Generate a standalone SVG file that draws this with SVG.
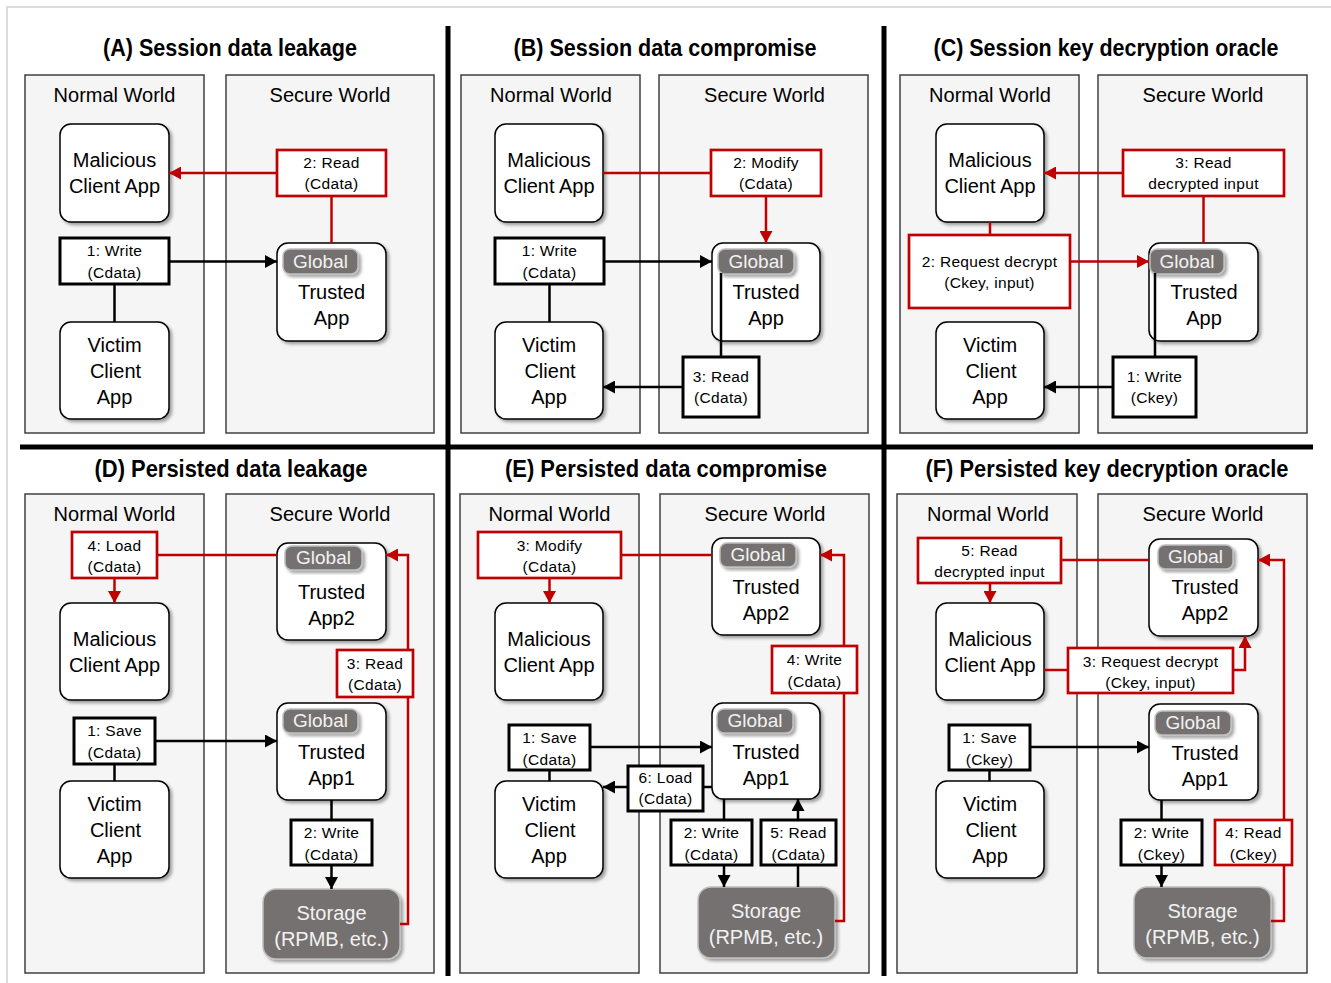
<svg xmlns="http://www.w3.org/2000/svg" width="1331" height="983" viewBox="0 0 1331 983">
<defs>
<filter id="sh" x="-20%" y="-20%" width="140%" height="140%">
<feDropShadow dx="2.5" dy="2.5" stdDeviation="1.5" flood-color="#000" flood-opacity="0.35"/>
</filter>
<marker id="ab" markerUnits="userSpaceOnUse" markerWidth="13" markerHeight="13" refX="12" refY="6.5" orient="auto">
<path d="M0,0 L12,6.5 L0,13 z" fill="#000"/>
</marker>
<marker id="ar" markerUnits="userSpaceOnUse" markerWidth="13" markerHeight="13" refX="12" refY="6.5" orient="auto">
<path d="M0,0 L12,6.5 L0,13 z" fill="#c00000"/>
</marker>
<style>
.world{fill:#f5f5f5;stroke:#404040;stroke-width:1.5}
.node{fill:#fff;stroke:#000;stroke-width:1.5;filter:url(#sh)}
.badge{fill:#767171;stroke:#bfbfbf;stroke-width:1.5;filter:url(#sh)}
.stor{fill:#767171;stroke:#bfbfbf;stroke-width:1.5;filter:url(#sh)}
.lb{fill:#fff;stroke:#000;stroke-width:3}
.lr{fill:#fff;stroke:#c00000;stroke-width:2.7}
.c{fill:none;stroke:#000;stroke-width:2.5}
.cr{fill:none;stroke:#c00000;stroke-width:2.5}
.ab{marker-end:url(#ab)}
.ar{marker-end:url(#ar)}
text{font-family:"Liberation Sans",Arial,sans-serif;text-anchor:middle;fill:#000}
.h{font-size:24px;font-weight:bold}
.t{font-size:20px}
.g{font-size:19px;fill:#f2f2f2}
.w{font-size:20px;fill:#f2f2f2}
.s{font-size:15.5px;letter-spacing:0.3px}
.div{stroke:#000;stroke-width:5}
</style>
</defs>

<rect x="7" y="7" width="1400" height="1000" fill="#fff" stroke="#dcdcdc" stroke-width="2"/>

<g id="dividers">
<line class="div" x1="448" y1="26" x2="448" y2="976"/>
<line class="div" x1="884" y1="26" x2="884" y2="976"/>
<line class="div" x1="20" y1="447" x2="1313" y2="447"/>
</g>

<g id="titles">
<text class="h" x="230" y="56" textLength="254" lengthAdjust="spacingAndGlyphs">(A) Session data leakage</text>
<text class="h" x="665" y="56" textLength="303" lengthAdjust="spacingAndGlyphs">(B) Session data compromise</text>
<text class="h" x="1106" y="56" textLength="345" lengthAdjust="spacingAndGlyphs">(C) Session key decryption oracle</text>
<text class="h" x="231" y="477" textLength="273" lengthAdjust="spacingAndGlyphs">(D) Persisted data leakage</text>
<text class="h" x="666" y="477" textLength="322" lengthAdjust="spacingAndGlyphs">(E) Persisted data compromise</text>
<text class="h" x="1107" y="477" textLength="363" lengthAdjust="spacingAndGlyphs">(F) Persisted key decryption oracle</text>
</g>

<g id="worlds">
<g id="A-normal"><rect class="world" x="25" y="75" width="179" height="358"/><text class="t" x="114.5" y="102">Normal World</text></g>
<g id="A-secure"><rect class="world" x="226" y="75" width="208" height="358"/><text class="t" x="330" y="102">Secure World</text></g>
<g id="B-normal"><rect class="world" x="461" y="75" width="179" height="358"/><text class="t" x="551" y="102">Normal World</text></g>
<g id="B-secure"><rect class="world" x="659" y="75" width="209" height="358"/><text class="t" x="764.5" y="102">Secure World</text></g>
<g id="C-normal"><rect class="world" x="900" y="75" width="179" height="358"/><text class="t" x="990" y="102">Normal World</text></g>
<g id="C-secure"><rect class="world" x="1098" y="75" width="209" height="358"/><text class="t" x="1203" y="102">Secure World</text></g>
<g id="D-normal"><rect class="world" x="25" y="494" width="179" height="479"/><text class="t" x="114.5" y="521">Normal World</text></g>
<g id="D-secure"><rect class="world" x="226" y="494" width="208" height="479"/><text class="t" x="330" y="521">Secure World</text></g>
<g id="E-normal"><rect class="world" x="460" y="494" width="179" height="479"/><text class="t" x="549.5" y="521">Normal World</text></g>
<g id="E-secure"><rect class="world" x="660" y="494" width="209" height="479"/><text class="t" x="765" y="521">Secure World</text></g>
<g id="F-normal"><rect class="world" x="897" y="494" width="180" height="479"/><text class="t" x="988" y="521">Normal World</text></g>
<g id="F-secure"><rect class="world" x="1098" y="494" width="209" height="479"/><text class="t" x="1203" y="521">Secure World</text></g>
</g>

<g id="apps">
<!-- A -->
<g id="A-mal"><rect class="node" x="60" y="124" width="109" height="98" rx="11"/><text class="t" x="114.5" y="167">Malicious</text><text class="t" x="114.5" y="193">Client App</text></g>
<g id="A-vic"><rect class="node" x="60" y="322" width="109" height="97" rx="11"/><text class="t" x="114.5" y="352">Victim</text><text class="t" x="115.5" y="378">Client</text><text class="t" x="114.5" y="404">App</text></g>
<g id="A-ta"><rect class="node" x="277" y="243" width="109" height="98" rx="11"/><rect class="badge" x="283" y="249" width="75" height="25" rx="7"/><text class="g" x="320.5" y="268">Global</text><text class="t" x="331.5" y="299">Trusted</text><text class="t" x="331.5" y="325">App</text></g>
<!-- B -->
<g id="B-mal"><rect class="node" x="495" y="124" width="108" height="98" rx="11"/><text class="t" x="549" y="167">Malicious</text><text class="t" x="549" y="193">Client App</text></g>
<g id="B-vic"><rect class="node" x="495" y="322" width="108" height="97" rx="11"/><text class="t" x="549" y="352">Victim</text><text class="t" x="550" y="378">Client</text><text class="t" x="549" y="404">App</text></g>
<g id="B-ta"><rect class="node" x="712" y="243" width="108" height="98" rx="11"/><rect class="badge" x="718" y="249" width="76" height="25" rx="7"/><text class="g" x="756" y="268">Global</text><text class="t" x="766" y="299">Trusted</text><text class="t" x="766" y="325">App</text></g>
<!-- C -->
<g id="C-mal"><rect class="node" x="936" y="124" width="108" height="98" rx="11"/><text class="t" x="990" y="167">Malicious</text><text class="t" x="990" y="193">Client App</text></g>
<g id="C-vic"><rect class="node" x="936" y="322" width="108" height="97" rx="11"/><text class="t" x="990" y="352">Victim</text><text class="t" x="991" y="378">Client</text><text class="t" x="990" y="404">App</text></g>
<g id="C-ta"><rect class="node" x="1149" y="243" width="109" height="98" rx="11"/><rect class="badge" x="1150" y="249" width="74" height="25" rx="7"/><text class="g" x="1187" y="268">Global</text><text class="t" x="1204" y="299">Trusted</text><text class="t" x="1204" y="325">App</text></g>
<!-- D -->
<g id="D-mal"><rect class="node" x="60" y="603" width="109" height="97" rx="11"/><text class="t" x="114.5" y="646">Malicious</text><text class="t" x="114.5" y="672">Client App</text></g>
<g id="D-vic"><rect class="node" x="60" y="781" width="109" height="97" rx="11"/><text class="t" x="114.5" y="811">Victim</text><text class="t" x="115.5" y="837">Client</text><text class="t" x="114.5" y="863">App</text></g>
<g id="D-ta2"><rect class="node" x="277" y="543" width="109" height="97" rx="11"/><rect class="badge" x="285" y="546" width="77" height="24" rx="7"/><text class="g" x="323.5" y="564">Global</text><text class="t" x="331.5" y="599">Trusted</text><text class="t" x="331.5" y="625">App2</text></g>
<g id="D-ta1"><rect class="node" x="277" y="703" width="109" height="97" rx="11"/><rect class="badge" x="283" y="709" width="75" height="24" rx="7"/><text class="g" x="320.5" y="727">Global</text><text class="t" x="331.5" y="759">Trusted</text><text class="t" x="331.5" y="785">App1</text></g>
<g id="D-sto"><rect class="stor" x="263" y="889" width="137" height="70" rx="13"/><text class="w" x="331.5" y="920">Storage</text><text class="w" x="331.5" y="946">(RPMB, etc.)</text></g>
<!-- E -->
<g id="E-mal"><rect class="node" x="495" y="603" width="108" height="97" rx="11"/><text class="t" x="549" y="646">Malicious</text><text class="t" x="549" y="672">Client App</text></g>
<g id="E-vic"><rect class="node" x="495" y="781" width="108" height="97" rx="11"/><text class="t" x="549" y="811">Victim</text><text class="t" x="550" y="837">Client</text><text class="t" x="549" y="863">App</text></g>
<g id="E-ta2"><rect class="node" x="712" y="538" width="108" height="97" rx="11"/><rect class="badge" x="720" y="543" width="76" height="24" rx="7"/><text class="g" x="758" y="561">Global</text><text class="t" x="766" y="594">Trusted</text><text class="t" x="766" y="620">App2</text></g>
<g id="E-ta1"><rect class="node" x="712" y="703" width="108" height="96" rx="11"/><rect class="badge" x="717" y="709" width="76" height="24" rx="7"/><text class="g" x="755" y="727">Global</text><text class="t" x="766" y="759">Trusted</text><text class="t" x="766" y="785">App1</text></g>
<g id="E-sto"><rect class="stor" x="698" y="887" width="137" height="71" rx="13"/><text class="w" x="766" y="918">Storage</text><text class="w" x="766" y="944">(RPMB, etc.)</text></g>
<!-- F -->
<g id="F-mal"><rect class="node" x="936" y="603" width="108" height="97" rx="11"/><text class="t" x="990" y="646">Malicious</text><text class="t" x="990" y="672">Client App</text></g>
<g id="F-vic"><rect class="node" x="936" y="781" width="108" height="97" rx="11"/><text class="t" x="990" y="811">Victim</text><text class="t" x="991" y="837">Client</text><text class="t" x="990" y="863">App</text></g>
<g id="F-ta2"><rect class="node" x="1149" y="539" width="109" height="97" rx="11"/><rect class="badge" x="1158" y="545" width="75" height="24" rx="7"/><text class="g" x="1195.5" y="563">Global</text><text class="t" x="1205" y="594">Trusted</text><text class="t" x="1205" y="620">App2</text></g>
<g id="F-ta1"><rect class="node" x="1149" y="704" width="109" height="96" rx="11"/><rect class="badge" x="1155" y="711" width="76" height="24" rx="7"/><text class="g" x="1193" y="729">Global</text><text class="t" x="1205" y="760">Trusted</text><text class="t" x="1205" y="786">App1</text></g>
<g id="F-sto"><rect class="stor" x="1134" y="887" width="137" height="71" rx="13"/><text class="w" x="1202.5" y="918">Storage</text><text class="w" x="1202.5" y="944">(RPMB, etc.)</text></g>
</g>

<g id="connectors">
<!-- A -->
<line class="c" x1="114.5" y1="284" x2="114.5" y2="322"/>
<line class="c ab" x1="169" y1="261.5" x2="277" y2="261.5"/>
<line class="cr" x1="331.5" y1="196" x2="331.5" y2="243"/>
<line class="cr ar" x1="277" y1="173" x2="169" y2="173"/>
<!-- B -->
<line class="c" x1="549.5" y1="284" x2="549.5" y2="322"/>
<line class="c ab" x1="604" y1="261.5" x2="712" y2="261.5"/>
<line class="cr" x1="603" y1="173" x2="711" y2="173"/>
<line class="cr ar" x1="766" y1="196" x2="766" y2="243"/>
<line class="c" x1="721" y1="357" x2="721" y2="273"/>
<line class="c ab" x1="683" y1="387" x2="603" y2="387"/>
<!-- C -->
<line class="cr" x1="990" y1="222" x2="990" y2="235"/>
<line class="cr ar" x1="1070" y1="261.5" x2="1149" y2="261.5"/>
<line class="cr" x1="1203.5" y1="196" x2="1203.5" y2="243"/>
<line class="cr ar" x1="1123" y1="173" x2="1044" y2="173"/>
<line class="c" x1="1155" y1="357" x2="1155" y2="273"/>
<line class="c ab" x1="1113" y1="387" x2="1044" y2="387"/>
<!-- D -->
<line class="cr" x1="157" y1="555" x2="277" y2="555"/>
<line class="cr ar" x1="114.5" y1="578" x2="114.5" y2="603"/>
<path class="cr ar" d="M400,924 H408 V555 H386"/>
<line class="c" x1="114.5" y1="764" x2="114.5" y2="781"/>
<line class="c ab" x1="155" y1="741" x2="277" y2="741"/>
<line class="c" x1="331.5" y1="800" x2="331.5" y2="820"/>
<line class="c ab" x1="331.5" y1="865" x2="331.5" y2="889"/>
<!-- E -->
<line class="cr" x1="621" y1="555" x2="712" y2="555"/>
<line class="cr ar" x1="549.5" y1="578" x2="549.5" y2="603"/>
<path class="cr ar" d="M835,921 H844 V555 H820"/>
<line class="c" x1="549.5" y1="770" x2="549.5" y2="781"/>
<line class="c ab" x1="590" y1="747" x2="712" y2="747"/>
<line class="c" x1="712" y1="787" x2="703" y2="787"/>
<line class="c ab" x1="628" y1="787" x2="603" y2="787"/>
<line class="c" x1="724" y1="799" x2="724" y2="820"/>
<line class="c ab" x1="724" y1="865" x2="724" y2="887"/>
<line class="c" x1="798" y1="887" x2="798" y2="865"/>
<line class="c ab" x1="798" y1="820" x2="798" y2="799"/>
<!-- F -->
<line class="cr" x1="1061" y1="560" x2="1149" y2="560"/>
<line class="cr ar" x1="990" y1="583" x2="990" y2="603"/>
<path class="cr ar" d="M1271,921 H1284 V560 H1258"/>
<line class="cr" x1="1044" y1="670" x2="1068" y2="670"/>
<path class="cr ar" d="M1233,670 H1245 V636"/>
<line class="c" x1="989.5" y1="770" x2="989.5" y2="781"/>
<line class="c ab" x1="1030" y1="747" x2="1149" y2="747"/>
<line class="c" x1="1161.5" y1="800" x2="1161.5" y2="820"/>
<line class="c ab" x1="1161.5" y1="865" x2="1161.5" y2="887"/>
</g>

<g id="labels">
<!-- A -->
<g id="A-l1"><rect class="lb" x="60" y="238" width="109" height="46"/><text class="s" x="114.5" y="256">1: Write</text><text class="s" x="114.5" y="278">(Cdata)</text></g>
<g id="A-l2"><rect class="lr" x="277" y="150" width="109" height="46"/><text class="s" x="331.5" y="168">2: Read</text><text class="s" x="331.5" y="189">(Cdata)</text></g>
<!-- B -->
<g id="B-l1"><rect class="lb" x="495" y="238" width="109" height="46"/><text class="s" x="549.5" y="256">1: Write</text><text class="s" x="549.5" y="278">(Cdata)</text></g>
<g id="B-l2"><rect class="lr" x="711" y="150" width="110" height="46"/><text class="s" x="766" y="168">2: Modify</text><text class="s" x="766" y="189">(Cdata)</text></g>
<g id="B-l3"><rect class="lb" x="683" y="357" width="76" height="60"/><text class="s" x="721" y="382">3: Read</text><text class="s" x="721" y="403">(Cdata)</text></g>
<!-- C -->
<g id="C-l2"><rect class="lr" x="909" y="235" width="161" height="73"/><text class="s" x="989.5" y="267">2: Request decrypt</text><text class="s" x="989.5" y="288">(Ckey, input)</text></g>
<g id="C-l3"><rect class="lr" x="1123" y="150" width="161" height="46"/><text class="s" x="1203.5" y="168">3: Read</text><text class="s" x="1203.5" y="189">decrypted input</text></g>
<g id="C-l1"><rect class="lb" x="1113" y="357" width="83" height="60"/><text class="s" x="1154.5" y="382">1: Write</text><text class="s" x="1154.5" y="403">(Ckey)</text></g>
<!-- D -->
<g id="D-l4"><rect class="lr" x="72" y="532" width="85" height="46"/><text class="s" x="114.5" y="551">4: Load</text><text class="s" x="114.5" y="572">(Cdata)</text></g>
<g id="D-l1"><rect class="lb" x="74" y="718" width="81" height="46"/><text class="s" x="114.5" y="736">1: Save</text><text class="s" x="114.5" y="758">(Cdata)</text></g>
<g id="D-l3"><rect class="lr" x="337" y="650" width="76" height="47"/><text class="s" x="375" y="669">3: Read</text><text class="s" x="375" y="690">(Cdata)</text></g>
<g id="D-l2"><rect class="lb" x="291" y="820" width="81" height="45"/><text class="s" x="331.5" y="838">2: Write</text><text class="s" x="331.5" y="859.5">(Cdata)</text></g>
<!-- E -->
<g id="E-l3"><rect class="lr" x="478" y="532" width="143" height="46"/><text class="s" x="549.5" y="551">3: Modify</text><text class="s" x="549.5" y="572">(Cdata)</text></g>
<g id="E-l4"><rect class="lr" x="772" y="646" width="85" height="47"/><text class="s" x="814.5" y="665">4: Write</text><text class="s" x="814.5" y="686.5">(Cdata)</text></g>
<g id="E-l1"><rect class="lb" x="509" y="725" width="81" height="45"/><text class="s" x="549.5" y="743">1: Save</text><text class="s" x="549.5" y="765">(Cdata)</text></g>
<g id="E-l6"><rect class="lb" x="628" y="766" width="75" height="45"/><text class="s" x="665.5" y="783">6: Load</text><text class="s" x="665.5" y="804">(Cdata)</text></g>
<g id="E-l2"><rect class="lb" x="671" y="820" width="81" height="45"/><text class="s" x="711.5" y="838">2: Write</text><text class="s" x="711.5" y="859.5">(Cdata)</text></g>
<g id="E-l5"><rect class="lb" x="761" y="820" width="75" height="45"/><text class="s" x="798.5" y="838">5: Read</text><text class="s" x="798.5" y="859.5">(Cdata)</text></g>
<!-- F -->
<g id="F-l5"><rect class="lr" x="918" y="538" width="143" height="45"/><text class="s" x="989.5" y="556">5: Read</text><text class="s" x="989.5" y="577">decrypted input</text></g>
<g id="F-l3"><rect class="lr" x="1068" y="648" width="165" height="45"/><text class="s" x="1150.5" y="667">3: Request decrypt</text><text class="s" x="1150.5" y="688">(Ckey, input)</text></g>
<g id="F-l1"><rect class="lb" x="949" y="725" width="81" height="45"/><text class="s" x="989.5" y="743">1: Save</text><text class="s" x="989.5" y="765">(Ckey)</text></g>
<g id="F-l2"><rect class="lb" x="1121" y="820" width="81" height="45"/><text class="s" x="1161.5" y="838">2: Write</text><text class="s" x="1161.5" y="859.5">(Ckey)</text></g>
<g id="F-l4"><rect class="lr" x="1215" y="820" width="77" height="45"/><text class="s" x="1253.5" y="838">4: Read</text><text class="s" x="1253.5" y="859.5">(Ckey)</text></g>
</g>
</svg>
